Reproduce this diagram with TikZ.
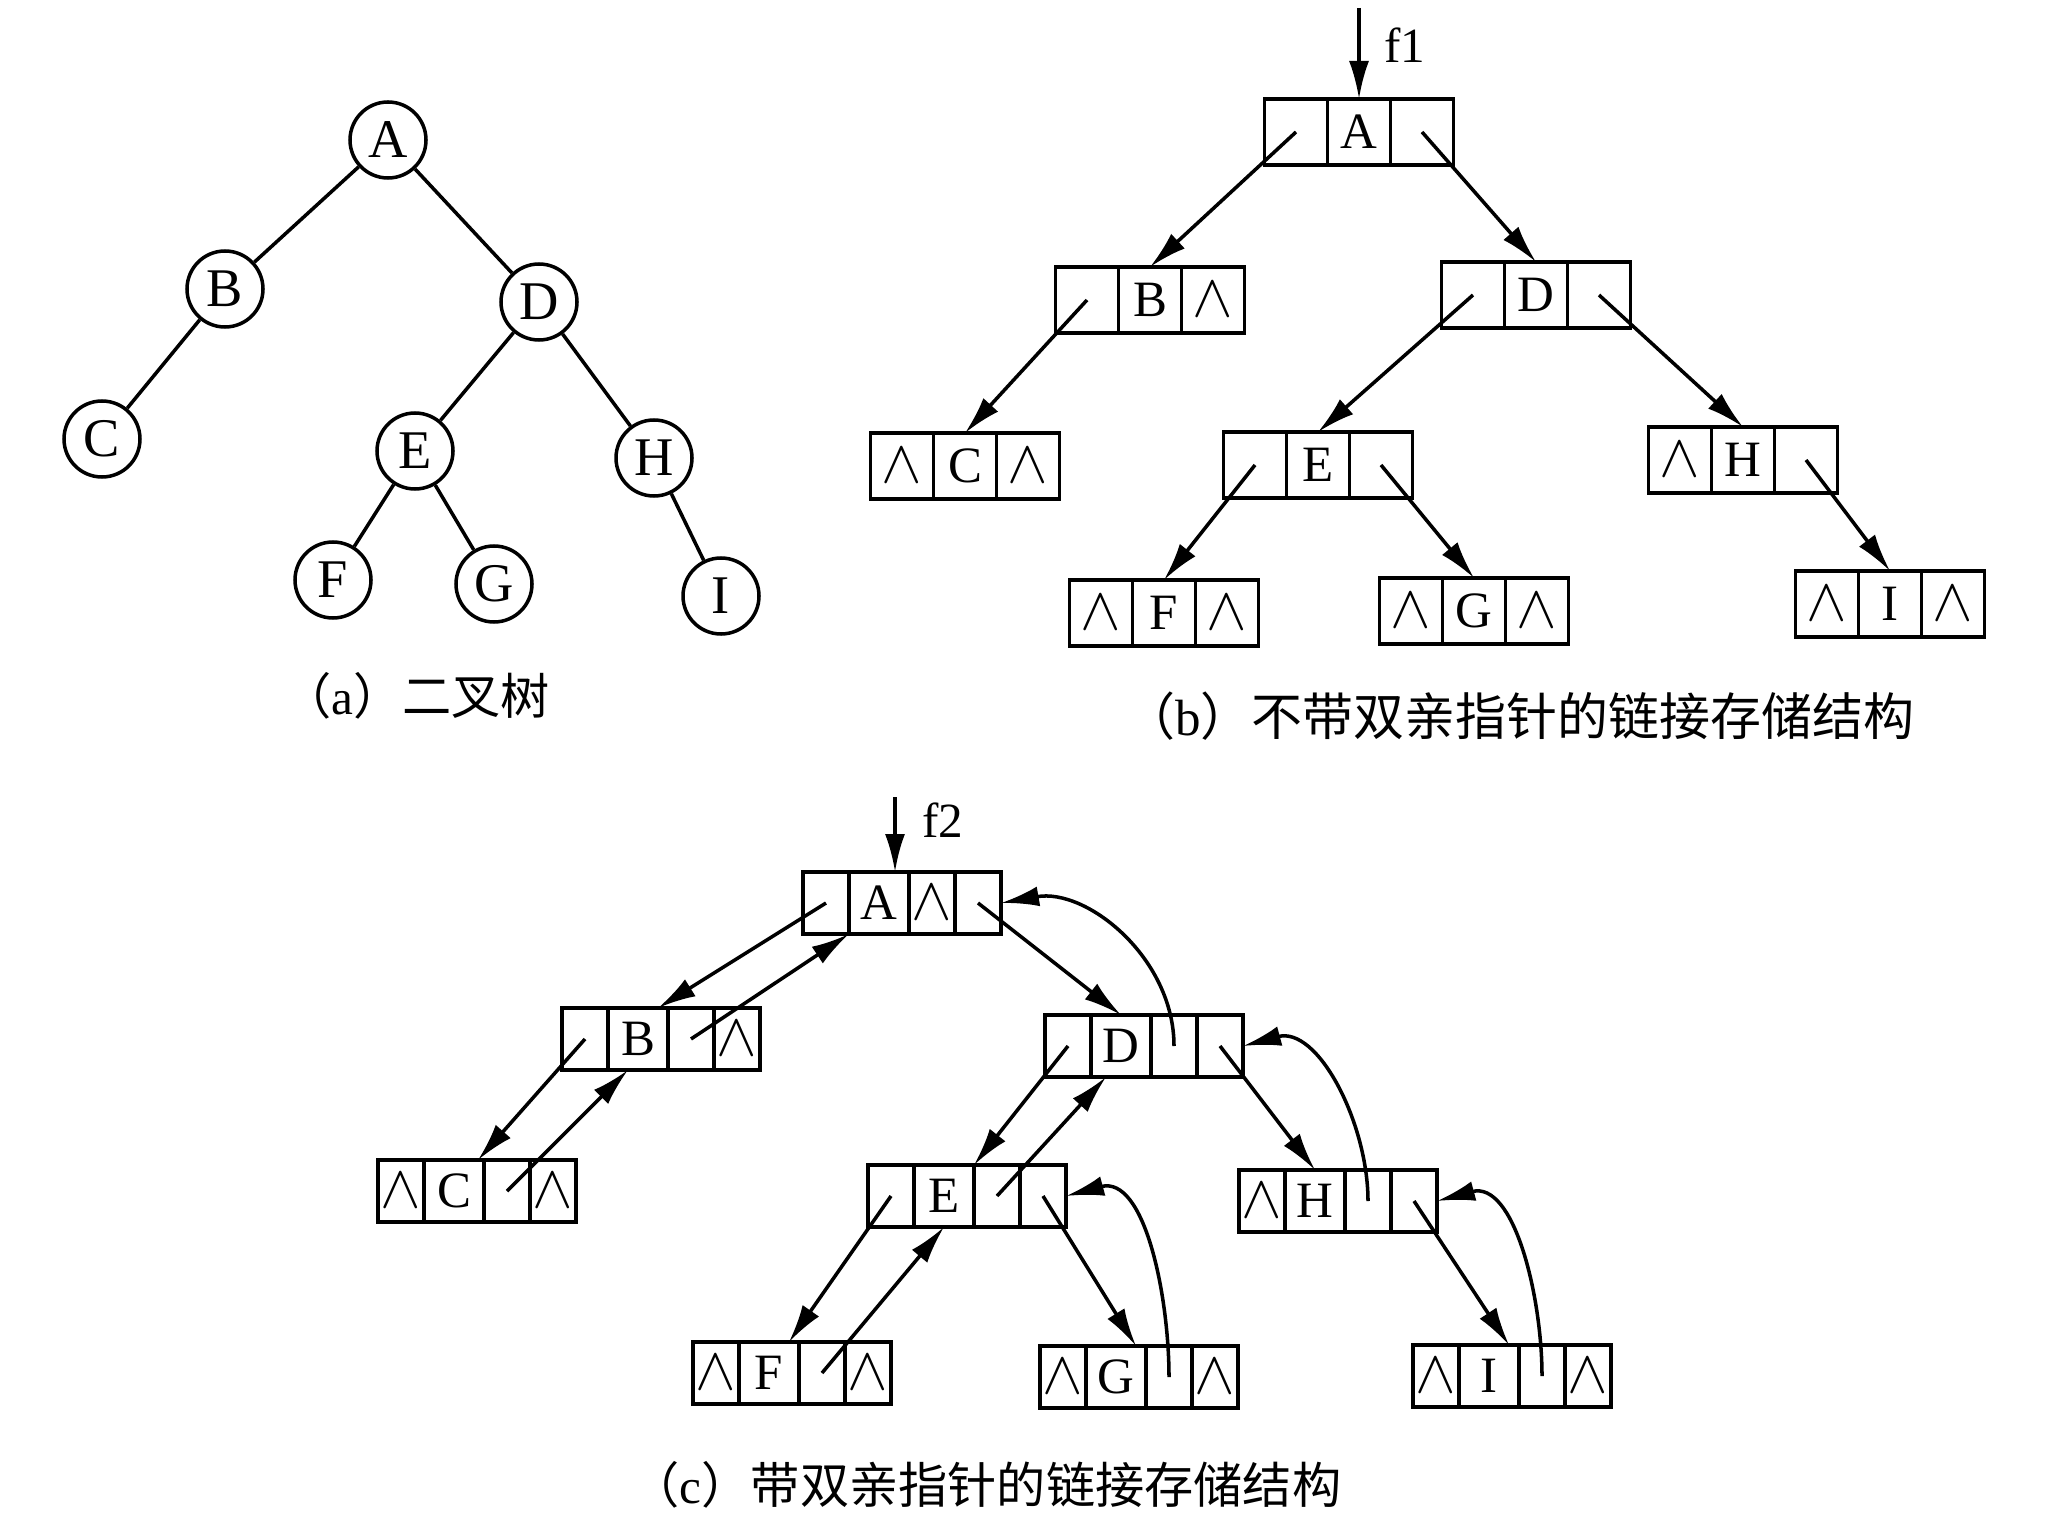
\documentclass[tikz,border=0pt]{standalone}
\usepackage{fontspec}
\setmainfont{Liberation Serif}
\newfontfamily\cjk{Noto Sans CJK SC}
\usetikzlibrary{arrows.meta,positioning}

\tikzset{
  treenode/.style={circle, draw, line width=1pt, minimum size=7.6mm, inner sep=0pt, font=\fontsize{15.5}{18}\selectfont},
  cellb/.style={rectangle, draw, line width=1pt, outer sep=0pt, minimum width=6.3mm, minimum height=6.6mm, inner sep=0pt, font=\fontsize{14.5}{17}\selectfont},
  cellc/.style={cellb, minimum width=4.6mm, minimum height=6.2mm},
  datac/.style={cellc, minimum width=6mm},
  link/.style={->, line width=1pt},
  caption/.style={font=\fontsize{14}{17}\selectfont}
}
\newcommand{\nil}{{\fontsize{16}{17}\selectfont$\wedge$}}

% three-cell record: name, position, left, data, right
\newcommand{\recb}[5]{%
  \node[cellb] (#1-2) at (#2) {#4};
  \node[cellb, left=0pt of #1-2] (#1-1) {#3};
  \node[cellb, right=0pt of #1-2] (#1-3) {#5};
}
% four-cell record: name, position, left, data, parent, right
\newcommand{\recc}[6]{%
  \node[datac] (#1-2) at (#2) {#4};
  \node[cellc, left=0pt of #1-2] (#1-1) {#3};
  \node[cellc, right=0pt of #1-2] (#1-3) {#5};
  \node[cellc, right=0pt of #1-3] (#1-4) {#6};
}

\begin{document}
\begin{tikzpicture}[x=0.1mm, y=-0.1mm, >={Latex[length=3.8mm,width=2mm]}]
\useasboundingbox (0,0) rectangle (2048,1529);

% (a) binary tree
\node[treenode] (tA) at (388,140) {A};
\node[treenode] (tB) at (225,289) {B};
\node[treenode] (tD) at (539,302) {D};
\node[treenode] (tC) at (102,439) {C};
\node[treenode] (tE) at (415,451) {E};
\node[treenode] (tH) at (654,458) {H};
\node[treenode] (tF) at (333,580) {F};
\node[treenode] (tG) at (494,584) {G};
\node[treenode] (tI) at (721,596) {I};
\draw[line width=1pt] (tA) -- (tB) (tA) -- (tD) (tB) -- (tC) (tD) -- (tE)
  (tD) -- (tH) (tE) -- (tF) (tE) -- (tG) (tH) -- (tI);
\node[caption] (capa) at (416,696) {{\cjk （}a{\cjk ）二叉树}};

% (b) without parent pointers
\coordinate (f1) at (1359,8);
\recb{bA}{1359,132}{}{A}{}
\recb{bB}{1150,300}{}{B}{\nil}
\recb{bD}{1536,295}{}{D}{}
\recb{bC}{965,466}{\nil}{C}{\nil}
\recb{bE}{1318,465}{}{E}{}
\recb{bH}{1743,460}{\nil}{H}{}
\recb{bF}{1164,613}{\nil}{F}{\nil}
\recb{bG}{1474,611}{\nil}{G}{\nil}
\recb{bI}{1890,604}{\nil}{I}{\nil}
\draw[link] (f1) -- (bA-2.north);
\node[font=\fontsize{14}{17}\selectfont] (lf1) at (1405,45) {f1};
\draw[link] (bA-1.center) -- (bB-2.north);
\draw[link] (bA-3.center) -- (bD-2.north);
\draw[link] (bB-1.center) -- (bC-2.north);
\draw[link] (bD-1.center) -- (bE-2.north);
\draw[link] (bD-3.center) -- (bH-2.north);
\draw[link] (bE-1.center) -- (bF-2.north);
\draw[link] (bE-3.center) -- (bG-2.north);
\draw[link] (bH-3.center) -- (bI-2.north);
\node[caption, font=\fontsize{14.5}{17}\selectfont] (capb) at (1519,716) {{\cjk （}b{\cjk ）不带双亲指针的链接存储结构}};

% (c) with parent pointers
\coordinate (f2) at (895,797);
\recc{cA}{879,903}{}{A}{\nil}{}
\recc{cB}{638,1039}{}{B}{}{\nil}
\recc{cD}{1121,1046}{}{D}{}{}
\recc{cC}{454,1191}{\nil}{C}{}{\nil}
\recc{cE}{944,1196}{}{E}{}{}
\recc{cH}{1315,1201}{\nil}{H}{}{}
\recc{cF}{769,1373}{\nil}{F}{}{\nil}
\recc{cG}{1116,1377}{\nil}{G}{}{\nil}
\recc{cI}{1489,1376}{\nil}{I}{}{\nil}
\draw[link] (f2) -- (f2 |- cA-2.north);
\node[font=\fontsize{14}{17}\selectfont] (lf2) at (943,820) {f2};
\draw[link] (cA-1.center) -- ([xshift=-1mm]cB-2.north east);
\draw[link] (cB-3.center) -- (cA-2.south west);
\draw[link] (cA-4.center) -- (cD-2.north);
\draw[link] (cD-3.center) to[out=90, in=10] (cA-4.east);
\draw[link] (cB-1.center) -- ([xshift=-0.6mm]cC-2.north east);
\draw[link] (cC-3.center) -- ([xshift=-1mm]cB-2.south);
\draw[link] (cD-1.center) -- (cE-2.north east);
\draw[link] (cE-3.center) -- ([xshift=-1.5mm]cD-2.south);
\draw[link] (cD-4.center) -- (cH-2.north);
\draw[link] (cH-3.center) to[out=90, in=15] (cD-4.east);
\draw[link] (cE-1.center) -- ([xshift=-1mm]cF-2.north east);
\draw[link] (cF-3.center) -- (cE-2.south);
\draw[link] (cE-4.center) -- ([xshift=2mm]cG-2.north);
\draw[link] (cG-3.center) to[out=90, in=15] (cE-4.east);
\draw[link] (cH-4.center) -- ([xshift=2mm]cI-2.north);
\draw[link] (cI-3.center) to[out=90, in=15] (cH-4.east);
\node[caption] (capc) at (986,1485) {{\cjk （}c{\cjk ）带双亲指针的链接存储结构}};
\end{tikzpicture}
\end{document}
